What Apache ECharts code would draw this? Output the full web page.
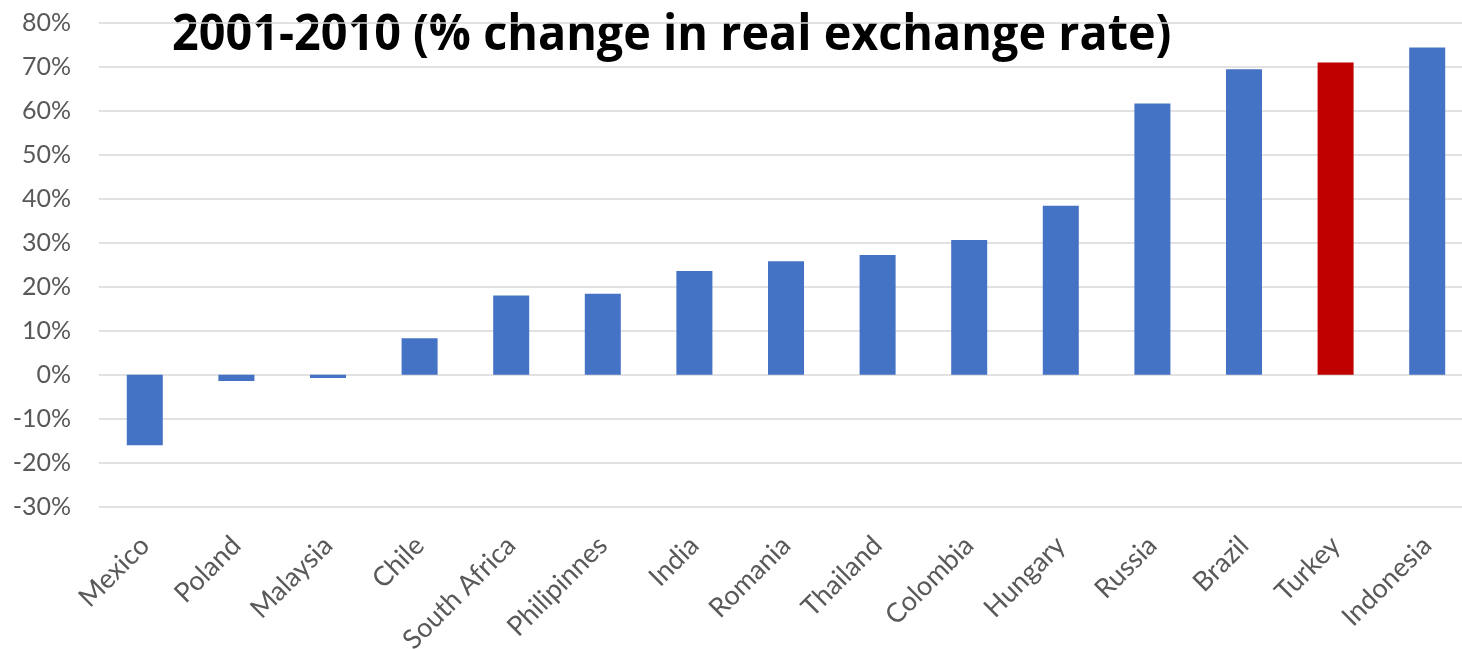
<!DOCTYPE html>
<html>
<head>
<meta charset="utf-8">
<script src="https://cdn.jsdelivr.net/npm/echarts@6/dist/echarts.min.js"></script>
<style>
  html, body { margin: 0; padding: 0; background: #fff; }
  #chart { width: 1462px; height: 649px; }
</style>
</head>
<body>
<div id="chart"></div>
<script>
// Real exchange rate change, 2001-2010, by country (percent)
const countries = ['Mexico', 'Poland', 'Malaysia', 'Chile', 'South Africa', 'Philipinnes', 'India',
  'Romania', 'Thailand', 'Colombia', 'Hungary', 'Russia', 'Brazil', 'Turkey', 'Indonesia'];
const changePct = [-16.0, -1.4, -0.7, 8.3, 18.0, 18.4, 23.6, 25.8, 27.2, 30.6, 38.4, 61.6, 69.4, 70.9, 74.3];
const highlighted = 'Turkey';
const titleText = '2001-2010 (% change in real exchange rate)';

const BLUE = '#4472C4';
const RED = '#C00000';
const LABEL_FONT = 'Lato, "Open Sans", sans-serif';

const chart = echarts.init(document.getElementById('chart'), null, { renderer: 'canvas' });

chart.setOption({
  animation: false,
  backgroundColor: '#ffffff',
  grid: {
    left: 99, top: 22.5, width: 1374, height: 484.5,
    containLabel: false,
    outerBoundsMode: 'none'
  },
  xAxis: {
    type: 'category',
    data: countries,
    axisLine: { show: false },
    axisTick: { show: false },
    axisLabel: {
      rotate: 45,
      interval: 0,
      margin: 34,
      color: '#595959',
      fontFamily: LABEL_FONT,
      fontSize: 27
    }
  },
  yAxis: {
    type: 'value',
    min: -30,
    max: 80,
    interval: 10,
    axisLine: { show: false },
    axisTick: { show: false },
    axisLabel: {
      formatter: '{value}%',
      margin: 28,
      color: '#595959',
      fontFamily: LABEL_FONT,
      fontSize: 25
    },
    splitLine: { lineStyle: { color: '#d9d9d9', width: 1.5 } }
  },
  series: [{
    type: 'bar',
    barWidth: 36,
    data: changePct.map((v, i) => ({
      value: v,
      itemStyle: { color: countries[i] === highlighted ? RED : BLUE }
    }))
  }],
  graphic: [{
    type: 'group',
    z: 100,
    children: [
      {
        type: 'rect',
        shape: { x: 152, y: 0, width: 1048, height: 88 },
        style: { fill: '#ffffff' }
      },
      {
        type: 'text',
        x: 172,
        y: 11,
        scaleX: 0.935,
        style: {
          text: titleText,
          fill: '#000000',
          font: 'bold 50px "Open Sans", sans-serif',
          textVerticalAlign: 'top'
        }
      }
    ]
  }]
});
</script>
</body>
</html>
